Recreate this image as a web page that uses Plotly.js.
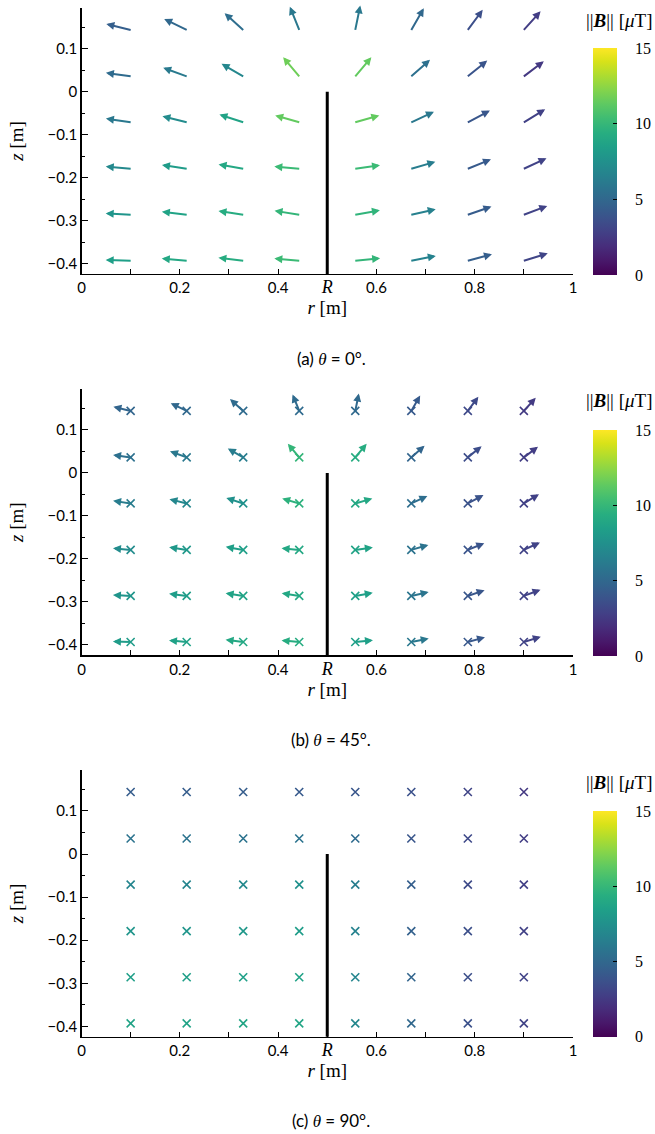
<!DOCTYPE html>
<html>
<head>
<meta charset="utf-8">
<script src="https://cdn.plot.ly/plotly-3.0.1.min.js"></script>
<style>html,body{margin:0;padding:0;background:#fff;}#chart{width:655px;height:1134px;}</style>
</head>
<body>
<div id="chart"></div>
<script>
// ---- data ----
const rVals = [0.1, 0.214, 0.329, 0.443, 0.557, 0.671, 0.786, 0.9];
const zVals = [0.144, 0.036, -0.071, -0.179, -0.286, -0.393];
const conductorR = 0.5;
const conductorZ = [0, -0.45];

// arrow directions in the (r,z) plane, degrees (rows: top -> bottom)
const angleDeg = [
  [166.5, 154, 138, 112, 78.5, 60, 53.5, 48],
  [172, 160, 150, 130, 50, 41.5, 39, 37],
  [171.5, 166, 162, 164, 16, 25, 28, 31.5],
  [175, 171.5, 170, 175, 8, 16, 22, 25],
  [177, 173, 171.5, 171, 10, 12.5, 19, 20.5],
  [178.5, 175, 173, 175, 5.5, 11, 15, 17]
];
// in-plane fraction of the field for each panel
const inPlaneFrac = {a: 1.0, b: 0.71, c: 0.0};

// |B| in microtesla
const magA = [
  [4.5, 5, 5.4, 6, 6, 5, 3.6, 2.7],
  [5.2, 6.1, 6.9, 11.7, 11.4, 5.5, 3.9, 2.5],
  [6, 7.2, 8.7, 11.4, 11.4, 6, 4, 2.9],
  [7, 8.2, 9, 10.2, 10.2, 6.3, 4.2, 3],
  [7.8, 8.7, 9.3, 9.9, 9.8, 6.5, 4.3, 3],
  [8.4, 9, 9.3, 10.2, 9.9, 6.6, 4.5, 3.1]
];
const magB = [
  [4.8, 5, 5.2, 5.2, 5.1, 4.2, 3.3, 2.6],
  [5.5, 6, 6.3, 9.9, 9.3, 4.8, 3.5, 2.7],
  [6.3, 6.9, 7.5, 9.6, 9, 5.4, 3.8, 2.9],
  [7.2, 8, 8.4, 9, 8.7, 5.7, 3.9, 3],
  [7.8, 8.3, 8.7, 9, 8.5, 5.8, 4, 3],
  [8.2, 8.6, 9, 9.3, 8.5, 6, 4.1, 3]
];
const magC = [
  [4.4, 4.4, 4.4, 4.2, 4, 3.7, 3.1, 2.5],
  [5.7, 5.7, 5.7, 5.7, 5.2, 4, 3.3, 2.7],
  [6.8, 6.8, 7, 7.5, 6.3, 4.5, 3.4, 2.8],
  [7.8, 7.8, 8, 8.3, 6.6, 4.6, 3.6, 2.9],
  [8.4, 8.4, 8.5, 8.6, 6.8, 4.8, 3.6, 3],
  [8.7, 8.7, 8.8, 8.8, 6.9, 5, 3.7, 3]
];
const thetaSpan = '<span style="font-family:Liberation Serif"><i>θ</i></span>';
const captions = ['(a)\u2005' + thetaSpan + '\u2005=\u20050°.', '(b)\u2005' + thetaSpan + '\u2005=\u200545°.', '(c)\u2005' + thetaSpan + '\u2005=\u200590°.'];
const xTickVals = [0, 0.1, 0.2, 0.3, 0.4, 0.5, 0.6, 0.7, 0.8, 0.9, 1];
const xTickText = ['0', '', '0.2', '', '0.4', '<span style="font-family:Liberation Serif;font-size:18px"><i>R</i></span>', '0.6', '', '0.8', '', '1'];
const yTickVals = [-0.4, -0.3, -0.2, -0.1, 0, 0.1];
const yMinorVals = [-0.35, -0.25, -0.15, -0.05, 0.05, 0.15];
const cbTickVals = [0, 5, 10, 15];
const cbTickText = ['0', '5', '10', '15'];

// ---- style ----
const W = 655, H = 1134;
const cmin = 0, cmax = 15;
const viridis = [[0,'#440154'],[0.0627,'#48186a'],[0.1255,'#472d7b'],[0.1882,'#424086'],[0.2510,'#3b528b'],[0.3137,'#33638d'],[0.3765,'#2c728e'],[0.4392,'#26828e'],[0.5020,'#21918c'],[0.5647,'#1fa088'],[0.6275,'#28ae80'],[0.6902,'#3fbc73'],[0.7529,'#5ec962'],[0.8157,'#84d44b'],[0.8784,'#addc30'],[0.9412,'#d8e219'],[1,'#fde725']];
function hex2rgb(h){return [parseInt(h.substr(1,2),16),parseInt(h.substr(3,2),16),parseInt(h.substr(5,2),16)];}
function cmap(v){
  let t = Math.max(0, Math.min(1, (v - cmin) / (cmax - cmin)));
  for (let k = 1; k < viridis.length; k++) {
    if (t <= viridis[k][0]) {
      const a = viridis[k-1], b = viridis[k];
      const f = (t - a[0]) / (b[0] - a[0]);
      const ca = hex2rgb(a[1]), cb = hex2rgb(b[1]);
      return 'rgb(' + ca.map((c,i)=>Math.round(c + f*(cb[i]-c))).join(',') + ')';
    }
  }
  return viridis[viridis.length-1][1];
}

const arrowLenPx = 25;
const xDom = [81.5/W, 573/W];
const panelTops = [8, 389, 770];      // px
const panelBottoms = [274, 655.3, 1036.7];
const cbTop = [48, 430, 811], cbBot = [275, 656, 1036.7];
const cbLeft = 593, cbThick = 24, cbLabelX = 633;
const yRange = [-0.424, 0.195];
const serif = 'Liberation Serif';
const sans = 'Lato';

const panels = [
  {key:'a', mag: magA},
  {key:'b', mag: magB},
  {key:'c', mag: magC}
];

const data = [];
const annotations = [];
const layout = {
  width: W, height: H,
  margin: {l:0, r:0, t:0, b:0},
  paper_bgcolor: 'white', plot_bgcolor: 'white',
  showlegend: false,
  font: {family: sans, color: 'black', size: 15},
  annotations: annotations
};

panels.forEach((p, k) => {
  const sfx = k === 0 ? '' : String(k + 1);
  const xref = 'x' + sfx, yref = 'y' + sfx;
  const yDom = [1 - panelBottoms[k]/H, 1 - panelTops[k]/H];
  layout['xaxis' + sfx] = {
    domain: xDom, range: [0, 1], anchor: yref,
    tickmode: 'array', tickvals: xTickVals, ticktext: xTickText,
    ticks: 'inside', ticklen: 5, tickwidth: 1, tickcolor: 'black',
    showline: true, linecolor: 'black', linewidth: 1.3,
    showgrid: false, zeroline: false,
    tickfont: {family: sans, size: 15, color: 'black'},
    title: {text: '<i>r</i> [m]', font: {family: serif, size: 19, color: 'black'}, standoff: 3}
  };
  layout['yaxis' + sfx] = {
    domain: yDom, range: yRange, anchor: xref,
    tickmode: 'array', tickvals: yTickVals,
    ticks: 'inside', ticklen: 6, tickwidth: 1, tickcolor: 'black',
    minor: {tickmode: 'array', tickvals: yMinorVals, ticks: 'inside', ticklen: 3, tickcolor: 'black', showgrid: false},
    showline: true, linecolor: 'black', linewidth: 1.3,
    showgrid: false, zeroline: false,
    tickfont: {family: sans, size: 15, color: 'black'},
    title: {text: '<i>z</i> [m]', font: {family: serif, size: 19, color: 'black'}, standoff: 19}
  };

  // conductor
  data.push({
    type: 'scatter', mode: 'lines', xaxis: xref, yaxis: yref,
    x: [conductorR, conductorR], y: conductorZ,
    line: {color: 'black', width: 3}, hoverinfo: 'skip'
  });

  // out-of-plane markers (x) + colorbar carrier
  const xs = [], ys = [], cs = [];
  zVals.forEach((z, i) => rVals.forEach((r, j) => { xs.push(r); ys.push(z); cs.push(p.mag[i][j]); }));
  const showX = inPlaneFrac[p.key] < 1;
  data.push({
    type: 'scatter', mode: 'markers', xaxis: xref, yaxis: yref,
    x: xs, y: ys,
    marker: {
      symbol: 'x-thin', size: 8, color: cs, opacity: showX ? 1 : 0,
      colorscale: viridis, cmin: cmin, cmax: cmax,
      line: {width: 1.6, color: cs, colorscale: viridis, cmin: cmin, cmax: cmax},
      showscale: true,
      colorbar: {
        x: cbLeft/W, xanchor: 'left', xref: 'paper', xpad: 0,
        y: 1 - (cbTop[k] + cbBot[k])/2/H, yanchor: 'middle', yref: 'paper', ypad: 0,
        len: cbBot[k] - cbTop[k], lenmode: 'pixels',
        thickness: cbThick, thicknessmode: 'pixels',
        outlinewidth: 0,
        tickmode: 'array', tickvals: cbTickVals,
        showticklabels: false,
        ticks: 'inside', ticklen: 4, tickcolor: 'black'
      }
    },
    hoverinfo: 'skip'
  });

  // colorbar tick labels
  cbTickVals.forEach((v, n) => {
    const ypx = cbBot[k] - (v - cmin) / (cmax - cmin) * (cbBot[k] - cbTop[k]);
    annotations.push({
      xref: 'paper', yref: 'paper', x: cbLabelX/W, y: 1 - ypx/H,
      xanchor: 'left', yanchor: 'middle', showarrow: false,
      text: cbTickText[n],
      font: {family: serif, size: 16, color: 'black'}
    });
  });

  // arrows
  const frac = inPlaneFrac[p.key];
  if (frac > 0) {
    zVals.forEach((z, i) => rVals.forEach((r, j) => {
      const ang = angleDeg[i][j] * Math.PI / 180;
      const L = arrowLenPx * frac;
      annotations.push({
        xref: xref, yref: yref, x: r, y: z,
        axref: 'pixel', ayref: 'pixel',
        ax: L * Math.cos(ang), ay: -L * Math.sin(ang),
        text: '', showarrow: true,
        arrowside: 'start', startarrowhead: 2, startarrowsize: 0.8,
        arrowhead: 2, arrowsize: 0.8,
        arrowwidth: 2, arrowcolor: cmap(p.mag[i][j]),
        borderpad: 0, borderwidth: 0, standoff: 0, startstandoff: 0
      });
    }));
  }

  // colorbar title
  annotations.push({
    xref: 'paper', yref: 'paper', x: 619/W, y: 1 - (panelTops[k] + 12)/H,
    xanchor: 'center', yanchor: 'middle', showarrow: false,
    text: '||<b><i>B</i></b>|| [<i>μ</i>T]',
    font: {family: serif, size: 19, color: 'black'}
  });
  // caption
  annotations.push({
    xref: 'paper', yref: 'paper', x: 331/W, y: 1 - (panelTops[k] + 350)/H,
    xanchor: 'center', yanchor: 'middle', showarrow: false,
    text: captions[k],
    font: {family: sans, size: 17, color: 'black'}
  });
});

Plotly.newPlot('chart', data, layout, {displayModeBar: false, staticPlot: true});
</script>
</body>
</html>
